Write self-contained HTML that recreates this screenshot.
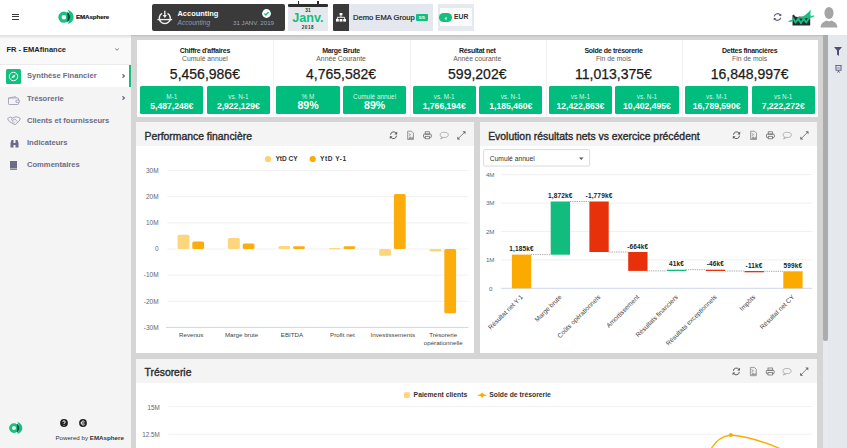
<!DOCTYPE html>
<html><head><meta charset="utf-8">
<style>
*{margin:0;padding:0;box-sizing:border-box}
html,body{width:847px;height:448px;overflow:hidden}
body{position:relative;font-family:"Liberation Sans",sans-serif;background:#d5d5d5;color:#333}
.a{position:absolute}
.t{position:absolute;white-space:nowrap;line-height:1}
#hdr{left:0;top:0;width:847px;height:34.6px;background:#fff;z-index:3}
#side{left:0;top:34px;width:131px;height:414px;background:#f4f4f5}
#rpanel{left:828px;top:34px;width:19px;height:414px;background:#e5e8ed}
#track{left:822.6px;top:34px;width:6px;height:414px;background:#e8eaee}
#thumb{left:823px;top:35px;width:5px;height:306px;background:#acacac;border-radius:0 0 2px 2px}
.card{position:absolute;background:#fff}
.kpi{position:absolute;top:39px;height:78px;width:136.2px}
.kpi .ti{position:absolute;top:7.5px;left:0;width:100%;text-align:center;font-size:7px;font-weight:700;color:#222;letter-spacing:-0.28px}
.kpi .st{position:absolute;top:16.4px;left:0;width:100%;text-align:center;font-size:6.8px;color:#5a5a5a}
.kpi .v{position:absolute;top:26.6px;left:0;width:100%;text-align:center;font-size:14px;color:#1a1a1a;-webkit-text-stroke:0.25px #1a1a1a}
.g{position:absolute;top:47.2px;height:28.1px;width:63.2px;background:#00bc7d;border-radius:1.5px;color:#fff;text-align:center}
.g .l{position:absolute;top:7.6px;width:100%;font-size:6.4px;color:rgba(255,255,255,.85);line-height:1}
.g .n{position:absolute;top:15.4px;width:100%;font-size:8.6px;font-weight:700;line-height:1}
.ph{position:absolute;left:0;top:0;width:100%;height:24px;background:#f4f4f4}
.ptitle{position:absolute;left:8.2px;top:9.2px;font-size:10.4px;color:#2a2a2a;white-space:nowrap;line-height:1;-webkit-text-stroke:0.35px #2a2a2a}
.nav .it{position:absolute;left:27px;font-size:7.6px;font-weight:700;color:#6c6c86;white-space:nowrap;line-height:1}
</style></head><body>

<!-- header -->
<div id="hdr" class="a">
  <!-- hamburger -->
  <div class="a" style="left:11.6px;top:13.8px;width:7px;height:1.1px;background:#3a3a3a"></div>
  <div class="a" style="left:11.6px;top:16.4px;width:7px;height:1.1px;background:#3a3a3a"></div>
  <div class="a" style="left:11.6px;top:19px;width:7px;height:1.1px;background:#3a3a3a"></div>
  <!-- logo -->
  <svg class="a" style="left:57px;top:9px" width="18" height="16" viewBox="0 0 18 16">
    <circle cx="6.9" cy="8.2" r="3.95" fill="none" stroke="#14c17f" stroke-width="3.3"/>
    <path d="M10.8 0.8 C15 2.6 16.6 5.3 16.6 8.1 C16.6 11 15 13.8 10.8 15 C12.3 12.4 12.7 10.2 12.7 8.1 C12.7 6 12.3 3.4 10.8 0.8Z" fill="#14c17f"/>
    <path d="M10.6 2.8 C12.4 4.6 13.1 6.4 13.1 8.1 C13.1 9.9 12.4 11.7 10.6 13.5 C10 11.7 10.7 9.9 10.7 8.1 C10.7 6.4 10 4.6 10.6 2.8Z" fill="#0b4a42"/>
  </svg>
  <div class="t" style="left:76px;top:14.2px;font-size:6.2px;font-weight:700;color:#111;letter-spacing:-0.1px;-webkit-text-stroke:0.15px #111">EMAsphere</div>

  <!-- accounting box -->
  <div class="a" style="left:152px;top:4px;width:132.5px;height:27px;background:#3a3a3a;border-radius:2px">
    <svg class="a" style="left:5px;top:6px" width="16" height="15" viewBox="0 0 16 15">
      <path d="M5.1 3.3 A5.5 5.5 0 1 0 10.5 3.3" fill="none" stroke="#eee" stroke-width="1.5"/>
      <path d="M7.8 0.8 V5.4" stroke="#eee" stroke-width="1.4"/>
      <path d="M5.6 5 H10 L7.8 7.9Z" fill="#eee"/>
      <path d="M0.4 9.6 H15.2" stroke="#eee" stroke-width="1.3"/>
    </svg>
    <div class="t" style="left:25.5px;top:6.1px;font-size:7.45px;font-weight:700;color:#fff">Accounting</div>
    <div class="t" style="left:25.5px;top:16px;font-size:6.6px;font-style:italic;color:#8b9bb4">Accounting</div>
    <div class="t" style="left:81px;top:16.3px;font-size:6.2px;color:#9aa3b2">31 JANV. 2019</div>
    <svg class="a" style="left:110px;top:5.4px" width="9" height="9" viewBox="0 0 9 9">
      <circle cx="4.5" cy="4.5" r="4.4" fill="#fff"/>
      <path d="M2.4 4.6 L3.9 6 L6.6 3.1" fill="none" stroke="#14c17f" stroke-width="1.4"/>
    </svg>
  </div>

  <!-- calendar -->
  <div class="a" style="left:288.2px;top:3.5px;width:39.5px;height:3.3px;background:#2e2e2e;border-radius:1px"></div>
  <div class="a" style="left:297.8px;top:0.5px;width:1.4px;height:4px;background:#2e2e2e"></div>
  <div class="a" style="left:317.3px;top:0.5px;width:1.4px;height:4px;background:#2e2e2e"></div>
  <div class="a" style="left:288.2px;top:6.8px;width:39.5px;height:24.4px;background:#e5e9ee"></div>
  <div class="t" style="left:288.2px;width:39.5px;text-align:center;top:9.3px;font-size:4.8px;font-weight:700;color:#333">31</div>
  <div class="t" style="left:288.2px;width:39.5px;text-align:center;top:12px;font-size:12.6px;font-weight:700;color:#13bf7d">Janv.</div>
  <div class="t" style="left:288.2px;width:39.5px;text-align:center;top:25.6px;font-size:4.6px;font-weight:700;color:#333;letter-spacing:0.5px">2018</div>

  <!-- org -->
  <div class="a" style="left:333.2px;top:4px;width:15.4px;height:27px;background:#3a3a3a;border-radius:1px 0 0 1px"></div>
  <svg class="a" style="left:336px;top:13px" width="10" height="9" viewBox="0 0 10 9">
    <rect x="3.6" y="0" width="2.8" height="2.4" fill="#fff"/>
    <path d="M5 2.4 V4.3 M1.4 6 V4.3 H8.6 V6" fill="none" stroke="#fff" stroke-width="0.9"/>
    <rect x="0" y="6" width="2.8" height="2.6" fill="#fff"/>
    <rect x="3.6" y="6" width="2.8" height="2.6" fill="#fff"/>
    <rect x="7.2" y="6" width="2.8" height="2.6" fill="#fff"/>
  </svg>
  <div class="a" style="left:348.6px;top:4px;width:84px;height:27px;background:#e4e8ee"></div>
  <div class="t" style="left:353px;top:13.6px;font-size:7.6px;color:#222;-webkit-text-stroke:0.2px #222">Demo EMA Group</div>
  <div class="a" style="left:415.5px;top:14.2px;width:12.8px;height:7px;background:#13bf7d;border-radius:1px"></div>
  <div class="t" style="left:415.5px;width:12.8px;text-align:center;top:15.7px;font-size:4.4px;font-weight:700;color:#fff">5/5</div>

  <!-- EUR -->
  <div class="a" style="left:438.4px;top:3.8px;width:36px;height:27.2px;background:#e6e9ee"></div>
  <div class="a" style="left:440px;top:8px;width:32.2px;height:17.6px;background:#fbfbfc"></div>
  <div class="a" style="left:438.8px;top:13.3px;width:13px;height:9.2px;background:#13bf7d;border-radius:5px"></div>
  <svg class="a" style="left:443px;top:15.5px" width="5" height="5" viewBox="0 0 5 5"><path d="M3.5 0.8 L1.5 2.5 L3.5 4.2Z" fill="#fff"/></svg>
  <div class="t" style="left:454px;top:14.2px;font-size:6.8px;font-weight:700;color:#333">EUR</div>

  <!-- right icons -->
  <svg class="a" style="left:772.5px;top:13px" width="9" height="8" viewBox="0 0 9 8">
    <path d="M1.2 3.3 A3.4 3.4 0 0 1 7.4 2.3" fill="none" stroke="#5c5a7a" stroke-width="1.1"/>
    <path d="M7.8 4.7 A3.4 3.4 0 0 1 1.6 5.7" fill="none" stroke="#5c5a7a" stroke-width="1.1"/>
    <path d="M8.3 0.5 V3 H5.8Z M0.7 7.5 V5 H3.2Z" fill="#5c5a7a"/>
  </svg>
  <svg class="a" style="left:788px;top:9px" width="27" height="17" viewBox="0 0 27 17">
    <path d="M4.5 16.6 V6.3 L5.9 5.6 L7.1 7.4 L9.5 8 L12 7.4 L14.5 8 L17.5 7 L22.2 5.8 V16.6Z" fill="#2b2830"/>
    <path d="M8.5 8.6 C12 8.2 15 7.6 17.2 6 C19.2 4.6 21 2.8 22.6 0.5 L22.3 8.6 L19 9.2 L15 9.6 L11 9.6Z" fill="#14c07e"/>
    <polyline points="4.8,8.6 7.6,13.6 10.3,9.4 12.9,14.3 15.6,9.6 18.2,13.6 21.4,8.6" fill="none" stroke="#14c07e" stroke-width="1.9" stroke-linejoin="round"/>
    <path d="M0.4 11.9 L4.5 10.6 V12.4 L0.7 13.1Z M22.2 7.5 L26.4 6.3 L26 7.6 L22.2 9Z" fill="#14c07e"/>
  </svg>
  <svg class="a" style="left:820px;top:6px" width="18" height="22" viewBox="0 0 18 22">
    <ellipse cx="9" cy="7" rx="4.6" ry="6" fill="#a5a5a5"/>
    <path d="M0.5 21.5 C1 17 4 15.5 6.5 14.5 L9 15.5 L11.5 14.5 C14 15.5 17 17 17.5 21.5Z" fill="#a5a5a5"/>
  </svg>
</div>

<!-- sidebar -->
<div id="side" class="a nav">
  <div class="a" style="left:0;top:0;width:131px;height:30.5px;background:#f9f9f9"></div>
  <div class="t" style="left:6.4px;top:12.2px;font-size:7.5px;font-weight:700;color:#1e1e1e">FR - EMAfinance</div>
  <svg class="a" style="left:115px;top:14.2px" width="4" height="3" viewBox="0 0 4 3"><path d="M0.3 0.4 L2 2.3 L3.7 0.4" fill="none" stroke="#6c6c86" stroke-width="0.9"/></svg>
  <!-- active -->
  <div class="a" style="left:0;top:29.8px;width:131px;height:0.8px;background:#ebebeb"></div>
  <div class="a" style="left:0;top:30.5px;width:131px;height:22px;background:#fff"></div>
  <div class="a" style="left:129px;top:30.5px;width:2.3px;height:22px;background:#13bf7d"></div>
  <div class="a" style="left:6.4px;top:34.8px;width:14.8px;height:14.8px;background:#13bf7d;border-radius:1.5px"></div>
  <svg class="a" style="left:8.3px;top:36.7px" width="11" height="11" viewBox="0 0 11 11">
    <circle cx="5.5" cy="5.5" r="4.2" fill="none" stroke="#fff" stroke-width="1"/>
    <path d="M7.6 3.4 L6.3 6.3 L3.4 7.6 L4.7 4.7Z" fill="#fff"/>
  </svg>
  <div class="it" style="top:38.2px">Synthèse Financier</div>
  <svg class="a" style="left:121.8px;top:39.7px" width="3" height="4" viewBox="0 0 3 4"><path d="M0.5 0.3 L2.4 2 L0.5 3.7" fill="none" stroke="#5c5c78" stroke-width="1.1"/></svg>
  <!-- tresorerie -->
  <svg class="a" style="left:7.7px;top:61.5px" width="12" height="9" viewBox="0 0 12 9">
    <path d="M0.5 2 H9.8 Q10.5 2 10.5 2.7 V7.8 Q10.5 8.5 9.8 8.5 H1.2 Q0.5 8.5 0.5 7.8Z" fill="none" stroke="#a0a0b5" stroke-width="0.9"/>
    <path d="M0.8 2 L7.5 0.6 L8.2 2" fill="none" stroke="#a0a0b5" stroke-width="0.8"/>
    <path d="M8 4.2 H11.4 V6.4 H8Z" fill="#f4f4f5" stroke="#a0a0b5" stroke-width="0.8"/>
  </svg>
  <div class="it" style="top:60.8px">Trésorerie</div>
  <svg class="a" style="left:121.8px;top:62.3px" width="3" height="4" viewBox="0 0 3 4"><path d="M0.5 0.3 L2.4 2 L0.5 3.7" fill="none" stroke="#5c5c78" stroke-width="1.1"/></svg>
  <!-- clients -->
  <svg class="a" style="left:7.2px;top:82.3px" width="14" height="9" viewBox="0 0 14 9">
    <path d="M0.5 2.6 L3.2 1 L5.6 2 L8.2 0.9 L10.6 1 L13.3 2.4 L12.2 5 L8.6 8.2 L7 8.3 L2.4 5.6Z" fill="none" stroke="#9c9cb2" stroke-width="0.9" stroke-linejoin="round"/>
    <path d="M5.6 2 L4.2 3.8 L5.6 4.4 L7.8 2.9 L10.4 5.6 M6.4 7 L7.8 6 M5 6.2 L6.4 5.2" fill="none" stroke="#9c9cb2" stroke-width="0.8"/>
  </svg>
  <div class="it" style="top:83px">Clients et fournisseurs</div>
  <!-- indicateurs -->
  <svg class="a" style="left:9.5px;top:105px" width="9" height="9" viewBox="0 0 9 9">
    <path d="M0.5 8.5 V4 L1.5 1 H3.5 V8.5Z M5.5 8.5 V1 H7.5 L8.5 4 V8.5Z M3.5 4 H5.5 V6 H3.5Z" fill="#6c6c86"/>
  </svg>
  <div class="it" style="top:105.2px">Indicateurs</div>
  <!-- commentaires -->
  <svg class="a" style="left:10.2px;top:127.4px" width="7" height="9" viewBox="0 0 7 9">
    <rect x="0" y="0" width="7" height="7.4" fill="#6c6c86"/><rect x="0" y="7.8" width="7" height="1" fill="#6c6c86"/>
  </svg>
  <div class="it" style="top:127.4px">Commentaires</div>

  <!-- bottom -->
  <svg class="a" style="left:8px;top:387.4px" width="15.5" height="13.8" viewBox="0 0 18 16">
    <circle cx="6.9" cy="8.2" r="3.95" fill="none" stroke="#14c17f" stroke-width="3.3"/>
    <path d="M10.8 0.8 C15 2.6 16.6 5.3 16.6 8.1 C16.6 11 15 13.8 10.8 15 C12.3 12.4 12.7 10.2 12.7 8.1 C12.7 6 12.3 3.4 10.8 0.8Z" fill="#14c17f"/>
    <path d="M10.6 2.8 C12.4 4.6 13.1 6.4 13.1 8.1 C13.1 9.9 12.4 11.7 10.6 13.5 C10 11.7 10.7 9.9 10.7 8.1 C10.7 6.4 10 4.6 10.6 2.8Z" fill="#0b4a42"/>
  </svg>
  <svg class="a" style="left:60.3px;top:384.8px" width="8" height="8" viewBox="0 0 8 8">
    <circle cx="4" cy="4" r="3.9" fill="#222"/>
    <path d="M2.8 3 A1.2 1.2 0 1 1 4 4.2 V5" fill="none" stroke="#fff" stroke-width="0.9"/><circle cx="4" cy="6.2" r="0.5" fill="#fff"/>
  </svg>
  <svg class="a" style="left:79px;top:384.8px" width="8" height="8" viewBox="0 0 8 8">
    <circle cx="4" cy="4" r="3.9" fill="#222"/>
    <path d="M5.5 2.5 A2 2 0 1 0 5.5 5.5 M2 4 H5.5" fill="none" stroke="#fff" stroke-width="0.9"/>
  </svg>
  <div class="t" style="left:55.4px;top:401px;font-size:6.2px;color:#333">Powered by <b>EMAsphere</b></div>
</div>

<!-- scrollbar / right panel -->
<div class="a" style="left:131px;top:34.6px;width:692px;height:2.8px;background:linear-gradient(#bebebe,#d3d3d3);z-index:2"></div>
<div class="a" style="left:0;top:34.6px;width:131px;height:3px;background:linear-gradient(#dedede,#f1f1f1);z-index:2"></div>
<div id="track" class="a"></div>
<div id="thumb" class="a"></div>
<div id="rpanel" class="a"></div>
<svg class="a" style="left:834.2px;top:46.9px" width="8" height="9" viewBox="0 0 8 9"><path d="M0 0 H8 L5 3.6 V8.9 L3 7.6 V3.6Z" fill="#4f4f72"/></svg>
<svg class="a" style="left:834.8px;top:64.6px" width="7" height="8" viewBox="0 0 7 8"><path d="M0.3 0.5 H6.7 M1 0.5 V5.2 H6 V0.5" fill="none" stroke="#66668a" stroke-width="1.1"/><path d="M2.2 2 H4.8 V4 H2.2Z" fill="#b0b0c4"/><path d="M3.5 5.2 V7 M2 7.6 L3.5 6.3 L5 7.6" fill="none" stroke="#66668a" stroke-width="0.9"/></svg>

<!-- KPI row -->
<div class="card" style="left:136.5px;top:39.7px;width:681px;height:77.6px"></div>
<div class="a" style="left:273.4px;top:39.7px;width:1px;height:77.6px;background:#f2f2f2"></div>
<div class="a" style="left:409.6px;top:39.7px;width:1px;height:77.6px;background:#f2f2f2"></div>
<div class="a" style="left:545.8px;top:39.7px;width:1px;height:77.6px;background:#f2f2f2"></div>
<div class="a" style="left:682px;top:39.7px;width:1px;height:77.6px;background:#f2f2f2"></div>

<div class="kpi" style="left:136.8px">
  <div class="ti">Chiffre d'affaires</div><div class="st">Cumulé annuel</div><div class="v">5,456,986€</div>
  <div class="g" style="left:3.4px"><div class="l">M-1</div><div class="n">5,487,248€</div></div>
  <div class="g" style="left:70px"><div class="l">vs. N-1</div><div class="n">2,922,129€</div></div>
</div>
<div class="kpi" style="left:273px">
  <div class="ti">Marge Brute</div><div class="st">Année Courante</div><div class="v">4,765,582€</div>
  <div class="g" style="left:3.4px"><div class="l">% M</div><div class="n" style="font-size:10.6px;top:14.2px">89%</div></div>
  <div class="g" style="left:70px"><div class="l">Cumulé annuel</div><div class="n" style="font-size:10.6px;top:14.2px">89%</div></div>
</div>
<div class="kpi" style="left:409.2px">
  <div class="ti">Résultat net</div><div class="st">Année courante</div><div class="v">599,202€</div>
  <div class="g" style="left:3.4px"><div class="l">vs. M-1</div><div class="n">1,766,194€</div></div>
  <div class="g" style="left:70px"><div class="l">vs. N-1</div><div class="n">1,185,460€</div></div>
</div>
<div class="kpi" style="left:545.4px">
  <div class="ti">Solde de trésorerie</div><div class="st">Fin de mois</div><div class="v">11,013,375€</div>
  <div class="g" style="left:3.4px"><div class="l">vs M-1</div><div class="n">12,422,863€</div></div>
  <div class="g" style="left:70px"><div class="l">vs. N-1</div><div class="n">10,402,495€</div></div>
</div>
<div class="kpi" style="left:681.6px">
  <div class="ti">Dettes financières</div><div class="st">Fin de mois</div><div class="v">16,848,997€</div>
  <div class="g" style="left:3.4px"><div class="l">vs. M-1</div><div class="n">16,789,590€</div></div>
  <div class="g" style="left:70px"><div class="l">vs N-1</div><div class="n">7,222,272€</div></div>
</div>

<!-- Panel: Performance financière -->
<div class="card" style="left:136.3px;top:122.4px;width:337.7px;height:230.4px">
  <div class="ph"></div>
  <div class="ptitle">Performance financière</div>
</div>

<!-- Panel: Evolution -->
<div class="card" style="left:480px;top:122.4px;width:337px;height:230.4px">
  <div class="ph"></div>
  <div class="ptitle">Evolution résultats nets vs exercice précédent</div>
</div>

<!-- Panel: Trésorerie -->
<div class="card" style="left:136.3px;top:358.7px;width:680.5px;height:100px">
  <div class="ph"></div>
  <div class="ptitle">Trésorerie</div>
</div>

<!--CHARTS-->
<svg class="a" style="left:0;top:0;z-index:2;font-family:'Liberation Sans',sans-serif" width="847" height="448" viewBox="0 0 847 448">
<g transform="translate(389.2,130.3)"><path d="M1.3 4.4 A3.1 3.1 0 0 1 7 3" fill="none" stroke="#5a5a5a" stroke-width="1"/><path d="M7.3 5.4 A3.1 3.1 0 0 1 1.6 6.9" fill="none" stroke="#5a5a5a" stroke-width="1"/><path d="M8 1.3 V4.1 H5.2Z M0.6 8.8 V6 H3.4Z" fill="#5a5a5a"/><path d="M18.4 0.9 H22.4 L24.3 2.8 V9.2 H18.4Z" fill="#eee" stroke="#888" stroke-width="0.8"/><path d="M18.8 8.8 L20.8 6 L22.2 7.5 L23.9 6.2 V8.8Z" fill="#999"/><path d="M19.4 3 L21.4 4.3 L19.4 5.6" fill="none" stroke="#888" stroke-width="0.7"/><rect x="36" y="1.5" width="4.4" height="2.3" fill="none" stroke="#6a6a6a" stroke-width="0.75"/><rect x="34.3" y="3.8" width="7.8" height="3.5" rx="0.8" fill="none" stroke="#6a6a6a" stroke-width="0.85"/><rect x="36" y="6" width="4.4" height="2.5" fill="#f4f4f4" stroke="#6a6a6a" stroke-width="0.75"/><ellipse cx="55" cy="4.6" rx="4.1" ry="2.6" fill="none" stroke="#aaa" stroke-width="0.85"/><path d="M52.4 6.8 L51.4 8.7 L54.2 7.3" fill="none" stroke="#aaa" stroke-width="0.85"/><path d="M68.8 8.5 L75.6 1.7" stroke="#6a6a6a" stroke-width="0.85"/><path d="M73.3 1 H76.3 V4Z M68.1 6.2 V9.2 H71.1Z" fill="#6a6a6a"/></g>
<g transform="translate(732.2,130.3)"><path d="M1.3 4.4 A3.1 3.1 0 0 1 7 3" fill="none" stroke="#5a5a5a" stroke-width="1"/><path d="M7.3 5.4 A3.1 3.1 0 0 1 1.6 6.9" fill="none" stroke="#5a5a5a" stroke-width="1"/><path d="M8 1.3 V4.1 H5.2Z M0.6 8.8 V6 H3.4Z" fill="#5a5a5a"/><path d="M18.4 0.9 H22.4 L24.3 2.8 V9.2 H18.4Z" fill="#eee" stroke="#888" stroke-width="0.8"/><path d="M18.8 8.8 L20.8 6 L22.2 7.5 L23.9 6.2 V8.8Z" fill="#999"/><path d="M19.4 3 L21.4 4.3 L19.4 5.6" fill="none" stroke="#888" stroke-width="0.7"/><rect x="36" y="1.5" width="4.4" height="2.3" fill="none" stroke="#6a6a6a" stroke-width="0.75"/><rect x="34.3" y="3.8" width="7.8" height="3.5" rx="0.8" fill="none" stroke="#6a6a6a" stroke-width="0.85"/><rect x="36" y="6" width="4.4" height="2.5" fill="#f4f4f4" stroke="#6a6a6a" stroke-width="0.75"/><ellipse cx="55" cy="4.6" rx="4.1" ry="2.6" fill="none" stroke="#aaa" stroke-width="0.85"/><path d="M52.4 6.8 L51.4 8.7 L54.2 7.3" fill="none" stroke="#aaa" stroke-width="0.85"/><path d="M68.8 8.5 L75.6 1.7" stroke="#6a6a6a" stroke-width="0.85"/><path d="M73.3 1 H76.3 V4Z M68.1 6.2 V9.2 H71.1Z" fill="#6a6a6a"/></g>
<g transform="translate(732.0,366.5)"><path d="M1.3 4.4 A3.1 3.1 0 0 1 7 3" fill="none" stroke="#5a5a5a" stroke-width="1"/><path d="M7.3 5.4 A3.1 3.1 0 0 1 1.6 6.9" fill="none" stroke="#5a5a5a" stroke-width="1"/><path d="M8 1.3 V4.1 H5.2Z M0.6 8.8 V6 H3.4Z" fill="#5a5a5a"/><path d="M18.4 0.9 H22.4 L24.3 2.8 V9.2 H18.4Z" fill="#eee" stroke="#888" stroke-width="0.8"/><path d="M18.8 8.8 L20.8 6 L22.2 7.5 L23.9 6.2 V8.8Z" fill="#999"/><path d="M19.4 3 L21.4 4.3 L19.4 5.6" fill="none" stroke="#888" stroke-width="0.7"/><rect x="36" y="1.5" width="4.4" height="2.3" fill="none" stroke="#6a6a6a" stroke-width="0.75"/><rect x="34.3" y="3.8" width="7.8" height="3.5" rx="0.8" fill="none" stroke="#6a6a6a" stroke-width="0.85"/><rect x="36" y="6" width="4.4" height="2.5" fill="#f4f4f4" stroke="#6a6a6a" stroke-width="0.75"/><ellipse cx="55" cy="4.6" rx="4.1" ry="2.6" fill="none" stroke="#aaa" stroke-width="0.85"/><path d="M52.4 6.8 L51.4 8.7 L54.2 7.3" fill="none" stroke="#aaa" stroke-width="0.85"/><path d="M68.8 8.5 L75.6 1.7" stroke="#6a6a6a" stroke-width="0.85"/><path d="M73.3 1 H76.3 V4Z M68.1 6.2 V9.2 H71.1Z" fill="#6a6a6a"/></g>
<rect x="167.3" y="170.1" width="301.1" height="1" fill="#f1f1f1"/>
<rect x="167.3" y="196.2" width="301.1" height="1" fill="#f1f1f1"/>
<rect x="167.3" y="222.4" width="301.1" height="1" fill="#f1f1f1"/>
<rect x="167.3" y="248.5" width="301.1" height="1" fill="#f1f1f1"/>
<rect x="167.3" y="274.6" width="301.1" height="1" fill="#f1f1f1"/>
<rect x="167.3" y="300.8" width="301.1" height="1" fill="#f1f1f1"/>
<rect x="166" y="326.9" width="302.4" height="1" fill="#ccd6eb"/>
<text x="158.6" y="172.9" text-anchor="end" font-size="6.5" fill="#666">30M</text>
<text x="158.6" y="199.0" text-anchor="end" font-size="6.5" fill="#666">20M</text>
<text x="158.6" y="225.2" text-anchor="end" font-size="6.5" fill="#666">10M</text>
<text x="158.6" y="251.3" text-anchor="end" font-size="6.5" fill="#666">0</text>
<text x="158.6" y="277.4" text-anchor="end" font-size="6.5" fill="#666">-10M</text>
<text x="158.6" y="303.6" text-anchor="end" font-size="6.5" fill="#666">-20M</text>
<text x="158.6" y="329.7" text-anchor="end" font-size="6.5" fill="#666">-30M</text>
<rect x="177.6" y="234.7" width="11.8" height="14.3" rx="1.6" fill="#fdd57c"/>
<rect x="192.3" y="241.4" width="11.8" height="7.6" rx="1.6" fill="#fbae0b"/>
<text x="191.2" y="337.4" text-anchor="middle" font-size="6.2" fill="#444">Revenus</text>
<rect x="228.0" y="238.0" width="11.8" height="11.0" rx="1.6" fill="#fdd57c"/>
<rect x="242.7" y="243.4" width="11.8" height="5.6" rx="1.6" fill="#fbae0b"/>
<text x="241.6" y="337.4" text-anchor="middle" font-size="6.2" fill="#444">Marge brute</text>
<rect x="278.4" y="246.0" width="11.8" height="3.0" rx="1.6" fill="#fdd57c"/>
<rect x="293.1" y="246.3" width="11.8" height="2.7" rx="1.6" fill="#fbae0b"/>
<text x="292.0" y="337.4" text-anchor="middle" font-size="6.2" fill="#444">EBITDA</text>
<rect x="328.8" y="248.1" width="11.8" height="1.2" rx="1.6" fill="#fdd57c"/>
<rect x="343.5" y="246.3" width="11.8" height="2.7" rx="1.6" fill="#fbae0b"/>
<text x="342.4" y="337.4" text-anchor="middle" font-size="6.2" fill="#444">Profit net</text>
<rect x="379.2" y="249.0" width="11.8" height="6.8" rx="1.6" fill="#fdd57c"/>
<rect x="393.9" y="194.1" width="11.8" height="54.9" rx="1.6" fill="#fbae0b"/>
<text x="392.8" y="337.4" text-anchor="middle" font-size="6.2" fill="#444">Investissements</text>
<rect x="429.6" y="249.0" width="11.8" height="2.5" rx="1.6" fill="#fdd57c"/>
<rect x="444.3" y="249.0" width="11.8" height="64.3" rx="1.6" fill="#fbae0b"/>
<text x="443.2" y="337.4" text-anchor="middle" font-size="6.2" fill="#444">Trésorerie</text>
<text x="443.2" y="345" text-anchor="middle" font-size="6.2" fill="#444">opérationnelle</text>
<circle cx="268" cy="159" r="3.1" fill="#fdd070"/>
<text x="275.4" y="161.3" font-size="6.6" font-weight="700" fill="#333">YtD CY</text>
<circle cx="312.7" cy="159" r="3.1" fill="#fbab00"/>
<text x="320" y="161.3" font-size="6.6" font-weight="700" fill="#333" letter-spacing="0.55">YtD Y-1</text>
<rect x="501" y="287.8" width="311.3" height="1" fill="#ccd6eb"/>
<text x="492.5" y="290.5" text-anchor="end" font-size="6.2" fill="#666">0</text>
<rect x="501" y="259.4" width="311.3" height="1" fill="#f1f1f1"/>
<text x="494.5" y="262.1" text-anchor="end" font-size="6.2" fill="#666">1M</text>
<rect x="501" y="231.0" width="311.3" height="1" fill="#f1f1f1"/>
<text x="494.5" y="233.7" text-anchor="end" font-size="6.2" fill="#666">2M</text>
<rect x="501" y="202.6" width="311.3" height="1" fill="#f1f1f1"/>
<text x="494.5" y="205.3" text-anchor="end" font-size="6.2" fill="#666">3M</text>
<rect x="501" y="174.2" width="311.3" height="1" fill="#f1f1f1"/>
<text x="494.5" y="176.9" text-anchor="end" font-size="6.2" fill="#666">4M</text>
<rect x="511.9" y="254.6" width="19.3" height="33.7" fill="#fbab00"/>
<text x="521.5" y="251.2" text-anchor="middle" font-size="6.5" font-weight="700" fill="#222" letter-spacing="0.15">1,185k€</text>
<line x1="531.2" y1="254.6" x2="550.6" y2="254.6" stroke="#444" stroke-width="0.6" stroke-dasharray="0.8,1"/>
<text transform="translate(523.3,297.5) rotate(-45)" text-anchor="end" font-size="6.5" fill="#3f3f3f">Résultat net Y-1</text>
<rect x="550.7" y="201.5" width="19.3" height="53.2" fill="#12bb7e"/>
<text x="560.3" y="198.1" text-anchor="middle" font-size="6.5" font-weight="700" fill="#222" letter-spacing="0.15">1,872k€</text>
<line x1="570.0" y1="201.5" x2="589.3" y2="201.5" stroke="#444" stroke-width="0.6" stroke-dasharray="0.8,1"/>
<text transform="translate(562.1,297.5) rotate(-45)" text-anchor="end" font-size="6.5" fill="#3f3f3f">Marge brute</text>
<rect x="589.4" y="201.5" width="19.3" height="50.5" fill="#e6310a"/>
<text x="599.0" y="198.1" text-anchor="middle" font-size="6.5" font-weight="700" fill="#222" letter-spacing="0.15">-1,779k€</text>
<line x1="608.7" y1="252.0" x2="628.1" y2="252.0" stroke="#444" stroke-width="0.6" stroke-dasharray="0.8,1"/>
<text transform="translate(600.8,297.5) rotate(-45)" text-anchor="end" font-size="6.5" fill="#3f3f3f">Coûts opérationnels</text>
<rect x="628.2" y="252.0" width="19.3" height="18.9" fill="#e6310a"/>
<text x="637.8" y="248.6" text-anchor="middle" font-size="6.5" font-weight="700" fill="#222" letter-spacing="0.15">-664k€</text>
<line x1="647.5" y1="270.9" x2="666.9" y2="270.9" stroke="#444" stroke-width="0.6" stroke-dasharray="0.8,1"/>
<text transform="translate(639.6,297.5) rotate(-45)" text-anchor="end" font-size="6.5" fill="#3f3f3f">Amortissement</text>
<rect x="667.0" y="269.7" width="19.3" height="1.3" fill="#12bb7e"/>
<text x="676.6" y="266.3" text-anchor="middle" font-size="6.5" font-weight="700" fill="#222" letter-spacing="0.15">41k€</text>
<line x1="686.3" y1="269.7" x2="705.6" y2="269.7" stroke="#444" stroke-width="0.6" stroke-dasharray="0.8,1"/>
<text transform="translate(678.4,297.5) rotate(-45)" text-anchor="end" font-size="6.5" fill="#3f3f3f">Résultats financiers</text>
<rect x="705.8" y="269.7" width="19.3" height="1.3" fill="#e6310a"/>
<text x="715.4" y="266.3" text-anchor="middle" font-size="6.5" font-weight="700" fill="#222" letter-spacing="0.15">-46k€</text>
<line x1="725.1" y1="271.0" x2="744.4" y2="271.0" stroke="#444" stroke-width="0.6" stroke-dasharray="0.8,1"/>
<text transform="translate(717.1,297.5) rotate(-45)" text-anchor="end" font-size="6.5" fill="#3f3f3f">Résultats exceptionnels</text>
<rect x="744.5" y="271.0" width="19.3" height="1.3" fill="#e6310a"/>
<text x="754.1" y="267.6" text-anchor="middle" font-size="6.5" font-weight="700" fill="#222" letter-spacing="0.15">-11k€</text>
<line x1="763.8" y1="271.3" x2="783.2" y2="271.3" stroke="#444" stroke-width="0.6" stroke-dasharray="0.8,1"/>
<text transform="translate(755.9,297.5) rotate(-45)" text-anchor="end" font-size="6.5" fill="#3f3f3f">Impôts</text>
<rect x="783.3" y="271.3" width="19.3" height="17.0" fill="#fbab00"/>
<text x="792.9" y="267.9" text-anchor="middle" font-size="6.5" font-weight="700" fill="#222" letter-spacing="0.15">599k€</text>
<text transform="translate(794.7,297.5) rotate(-45)" text-anchor="end" font-size="6.5" fill="#3f3f3f">Résultat net CY</text>
<rect x="483.6" y="149.6" width="106" height="16.4" rx="1" fill="#fff" stroke="#d6d6d6" stroke-width="0.9"/>
<text x="489.8" y="160.8" font-size="6.7" fill="#333">Cumulé annuel</text>
<path d="M579 157.5 H583.5 L581.25 160Z" fill="#555"/>
<rect x="168.4" y="406.1" width="644" height="1" fill="#f1f1f1"/>
<rect x="168.4" y="433.7" width="644" height="1" fill="#f1f1f1"/>
<text x="159.7" y="409.5" text-anchor="end" font-size="6.3" fill="#666">15M</text>
<text x="159.7" y="437" text-anchor="end" font-size="6.3" fill="#666">12.5M</text>
<rect x="404" y="392.3" width="5.8" height="5.8" rx="1" fill="#fdd57c"/>
<text x="413.6" y="397.4" font-size="6.8" font-weight="700" fill="#333">Paiement clients</text>
<line x1="477.9" y1="395.2" x2="486.4" y2="395.2" stroke="#fbab00" stroke-width="1.2"/>
<path d="M482.1 392.6 L484.7 395.2 L482.1 397.8 L479.5 395.2Z" fill="#fbab00"/>
<text x="489.3" y="397.4" font-size="6.8" font-weight="700" fill="#333">Solde de trésorerie</text>
<path d="M711 449 C716 440 722 436 730.9 435 C742 436 760 440 781 449" fill="none" stroke="#fbab00" stroke-width="1.3"/>
<circle cx="730.9" cy="435" r="2" fill="#fbab00"/>
</svg>
<!--/CHARTS-->
</body></html>
